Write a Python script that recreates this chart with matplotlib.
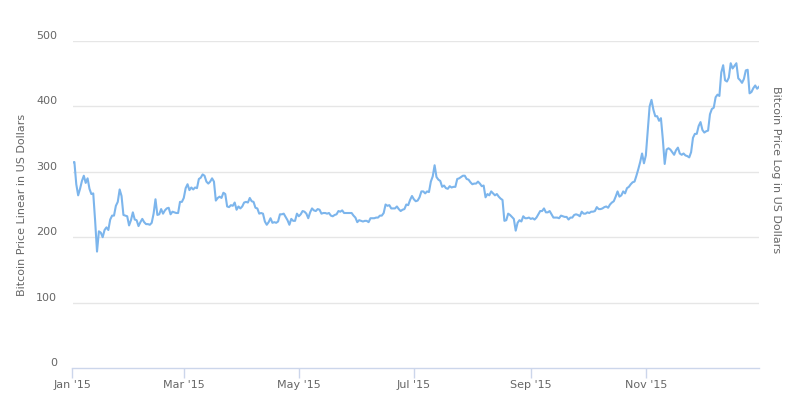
import matplotlib
matplotlib.use("Agg")
import matplotlib.pyplot as plt
import matplotlib.dates as mdates
import pandas as pd

# daily close, 2015
jan = [314, 315, 281, 264, 274, 286, 294, 283, 290, 274, 266, 267, 225, 178, 209, 207,
       200, 211, 215, 211, 227, 233, 233, 248, 254, 273, 263, 234, 233, 232, 218]
feb = [226, 238, 227, 226, 217, 223, 228, 223, 220, 220, 219, 222, 236, 258, 234, 235,
       243, 236, 241, 244, 245, 235, 239, 238, 237, 237, 254, 254]
mar = [260, 275, 281, 272, 276, 273, 276, 275, 289, 291, 296, 294, 285, 282, 285, 290,
       285, 256, 260, 262, 260, 268, 266, 247, 246, 249, 248, 253, 242, 247, 244]
apr = [247, 253, 254, 253, 260, 255, 254, 245, 244, 236, 237, 236, 224, 219, 223, 229,
       222, 223, 222, 224, 235, 235, 236, 231, 226, 219, 228, 225, 225, 236]
may = [232, 235, 240, 239, 236, 229, 238, 244, 241, 240, 243, 242, 236, 237, 237, 236,
       237, 233, 232, 234, 235, 240, 239, 241, 237, 237, 237, 237, 237, 233, 230]
jun = [223, 226, 225, 224, 225, 225, 223, 229, 229, 229, 230, 230, 233, 233, 237, 250,
       248, 249, 244, 244, 244, 247, 243, 240, 242, 243, 250, 249, 257, 263]
jul = [258, 255, 256, 261, 270, 270, 267, 270, 269, 285, 293, 310, 292, 288, 286, 277,
       279, 275, 274, 278, 276, 277, 277, 289, 290, 292, 294, 294, 289, 288, 284]
aug = [281, 282, 282, 285, 282, 278, 279, 261, 266, 264, 270, 267, 264, 266, 262, 259,
       257, 225, 226, 236, 234, 231, 228, 210, 222, 226, 224, 232, 229, 229, 230]
sep = [228, 229, 227, 230, 235, 240, 240, 244, 238, 238, 240, 235, 230, 230, 230, 229,
       233, 232, 231, 231, 227, 230, 230, 234, 235, 234, 232, 239, 236, 236]
oct_ = [238, 237, 239, 239, 240, 246, 243, 243, 244, 246, 247, 245, 250, 253, 255, 262,
        270, 262, 264, 270, 267, 275, 277, 281, 284, 285, 294, 304, 315, 328, 313]
nov = [325, 362, 400, 410, 395, 385, 385, 378, 382, 350, 312, 334, 336, 334, 330, 326,
       333, 337, 328, 326, 328, 325, 324, 322, 330, 352, 358, 358, 370, 376]
dec = [364, 360, 362, 363, 388, 396, 398, 414, 418, 416, 452, 463, 440, 438, 444, 466,
       458, 462, 466, 443, 440, 436, 442, 455, 456, 420, 422, 428, 432, 427, 430]

prices = jan + feb + mar + apr + may + jun + jul + aug + sep + oct_ + nov + dec
dates = pd.date_range("2015-01-01", periods=len(prices), freq="D")

y_ticks = [0, 100, 200, 300, 400, 500]
x_ticks = pd.to_datetime(["2015-01-01", "2015-03-01", "2015-05-01",
                          "2015-07-01", "2015-09-01", "2015-11-01"])

W, H = 797, 398
fig = plt.figure(figsize=(W / 100, H / 100), dpi=100)
ax = fig.add_axes([72.5 / W, (H - 368) / H, (759 - 72.5) / W, (368 - 41) / H])

ax.plot(dates, prices, color="#7cb5ec", lw=1.5, solid_joinstyle="round")

ax.set_xlim(dates[0], dates[-1])
ax.set_ylim(0, 500)
ax.set_yticks(y_ticks)
ax.set_xticks(x_ticks)
ax.xaxis.set_major_formatter(mdates.DateFormatter("%b '%y"))

for v in y_ticks[1:]:
    ax.axhline(v, color="#e6e6e6", lw=1, zorder=0)

for s in ["top", "right", "left"]:
    ax.spines[s].set_visible(False)
ax.spines["bottom"].set_color("#ccd6eb")
ax.spines["bottom"].set_linewidth(1)

ax.tick_params(axis="y", length=0, pad=11, labelsize=8, labelcolor="#666666")
ax.tick_params(axis="x", length=7, width=1, color="#ccd6eb", pad=2,
               labelsize=8, labelcolor="#666666")
for lab in ax.get_yticklabels():
    lab.set_verticalalignment("bottom")

fig.text(22 / W, 1 - 205 / H, "Bitcoin Price Linear in US Dollars", rotation=90,
         ha="center", va="center", fontsize=8, color="#666666")
fig.text(776 / W, 1 - 170 / H, "Bitcoin Price Log in US Dollars", rotation=270,
         ha="center", va="center", fontsize=8, color="#666666")

fig.savefig("out.png", dpi=100)
